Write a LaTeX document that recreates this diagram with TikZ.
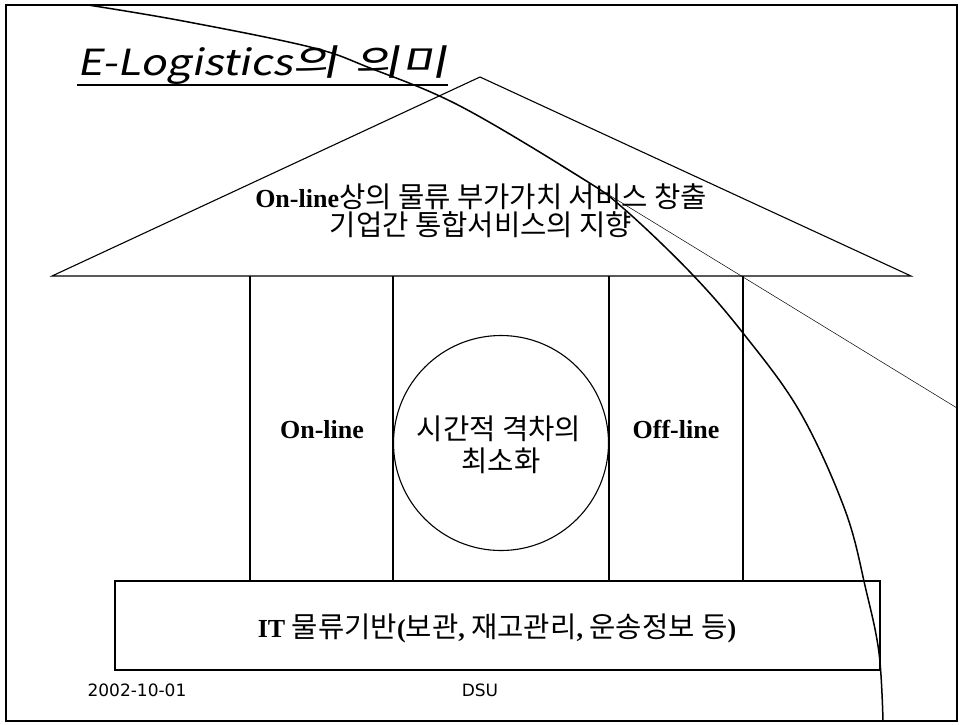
\documentclass[tikz,border=0pt]{standalone}
\usepackage{fontspec}
\setmainfont{Liberation Serif}
\newfontfamily\kr[Scale=1.1]{Noto Sans CJK KR}
\newfontfamily\titf[FakeSlant=0.2,FakeStretch=1.2]{Noto Sans CJK KR}
\newfontfamily\titk[FakeSlant=0.2,FakeStretch=1.4]{Noto Sans CJK KR}
\newfontfamily\footf{DejaVu Sans}
\tikzset{
  txt/.style={inner sep=0pt, anchor=base, font=\fontsize{26}{30}\selectfont},
  ln/.style={line width=1.1pt},
  footer/.style={inner sep=0pt, anchor=base, font=\footf\fontsize{17}{20}\selectfont}
}
\begin{document}
\begin{tikzpicture}[x=1pt,y=-1pt]
\useasboundingbox (0,0) rectangle (960,724);
\fill[white] (0,0) rectangle (960,724);
% frame
\draw[line width=2.2pt] (6,5) rectangle (957,721);
% roof
\coordinate (rl) at (52,276);
\coordinate (ra) at (480,77);
\coordinate (rr) at (911,276);
\draw[ln] (rl) -- (ra) -- (rr) -- cycle;
% pillars
\foreach \x in {250,393,609,743} \draw[ln] (\x,276) -- (\x,581);
% circle
\draw[ln] (501,443) circle (107.5);
% base
\draw[ln] (115,581) rectangle (880,670);
% big curve
\draw[line width=1.5pt] plot[smooth, tension=0.6] coordinates {(88,5) (183,21) (310,47) (370,68) (460,106) (580,177) (623,208) (690,272) (743,333) (800,412) (845,510) (866,590) (879,653) (883,721)};
% thin tangent line
\draw[line width=0.5pt] (560,165) -- (957,408);
% title
\node[inner sep=0pt, anchor=base west, font=\fontsize{36}{40}\selectfont] (title) at (77,75) {{\titf E-Logistics}{\titk 의}\hspace{16pt}{\titk 의미}};
\draw[line width=1.5pt] (77,85) -- (448,85);
% roof texts
\node[txt] (r1) at (481,207) {\textbf{On-line}{\kr 상의 물류 부가가치 서비스 창출}};
\node[txt] (r2) at (481,235) {\kr 기업간 통합서비스의 지향};
% pillar texts
\node[txt] (on) at (322,438) {\textbf{On-line}};
\node[txt] (off) at (676,438) {\textbf{Off-line}};
\node[txt] (c1) at (499,439) {\kr 시간적 격차의};
\node[txt] (c2) at (501,471) {\kr 최소화};
% base text
\node[txt] (b1) at (497,637) {\textbf{IT }{\kr 물류기반}\textbf{(}{\kr 보관}\textbf{, }{\kr 재고관리}\textbf{, }{\kr 운송정보 등}\textbf{)}};
% footer
\node[footer] (date) at (137,696) {2002-10-01};
\node[footer] (dsu) at (480,696) {DSU};
\end{tikzpicture}
\end{document}
